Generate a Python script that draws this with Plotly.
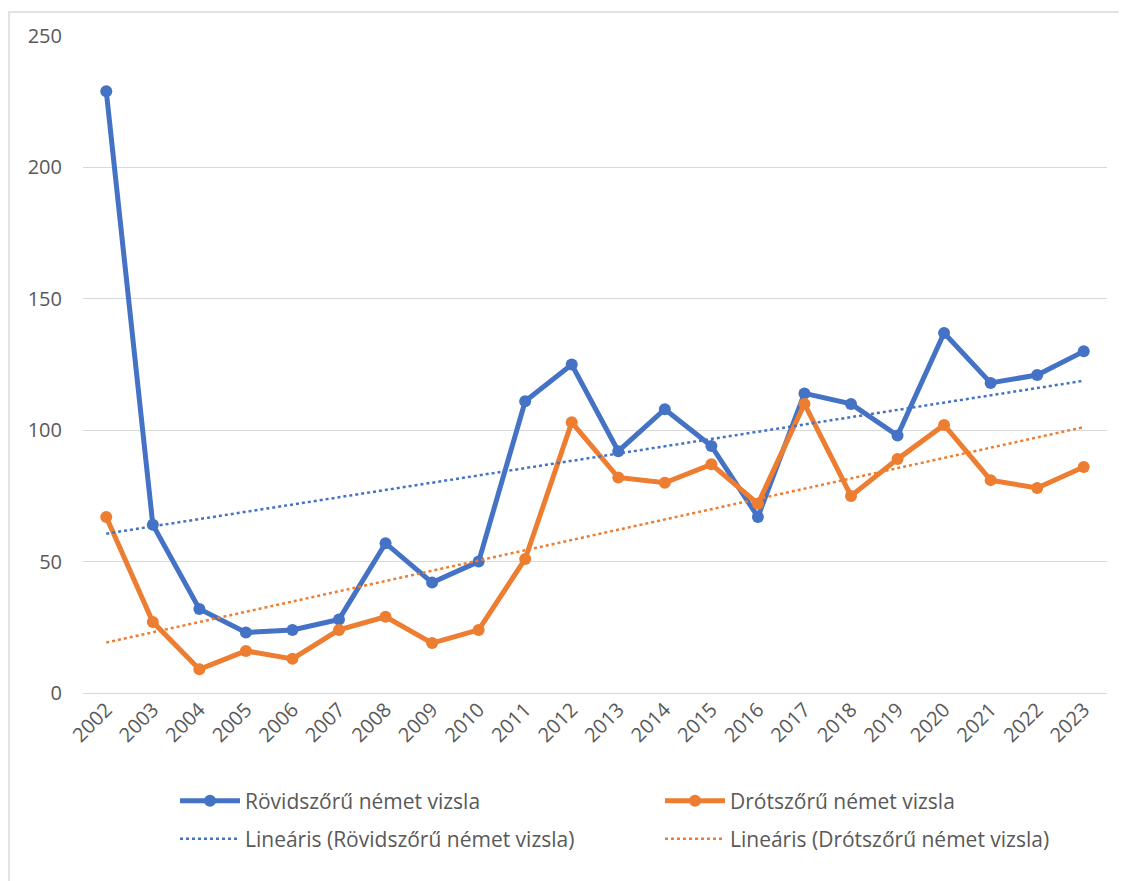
import numpy as np
import plotly.graph_objects as go

years = [str(y) for y in range(2002, 2024)]
rovid = [229, 64, 32, 23, 24, 28, 57, 42, 50, 111, 125, 92, 108, 94, 67, 114, 110, 98, 137, 118, 121, 130]
drot = [67, 27, 9, 16, 13, 24, 29, 19, 24, 51, 103, 82, 80, 87, 72, 110, 75, 89, 102, 81, 78, 86]

name_r = "Rövidszőrű német vizsla"
name_d = "Drótszőrű német vizsla"
BLUE = "#4472C4"
ORANGE = "#ED7D31"
TXT = "#595959"
FONT = "Open Sans"

idx = np.arange(len(years))
def trend(vals):
    a, b = np.polyfit(idx, np.array(vals, dtype=float), 1)
    return (a * idx + b).tolist()

fig = go.Figure()
fig.add_trace(go.Scatter(x=years, y=rovid, name=name_r, mode="lines+markers",
                         line=dict(color=BLUE, width=5), marker=dict(size=12, color=BLUE),
                         legend="legend"))
fig.add_trace(go.Scatter(x=years, y=drot, name=name_d, mode="lines+markers",
                         line=dict(color=ORANGE, width=5), marker=dict(size=12, color=ORANGE),
                         legend="legend2"))
fig.add_trace(go.Scatter(x=years, y=trend(rovid), name="Lineáris (" + name_r + ")", mode="lines",
                         line=dict(color=BLUE, width=2.5, dash="dot"), legend="legend3"))
fig.add_trace(go.Scatter(x=years, y=trend(drot), name="Lineáris (" + name_d + ")", mode="lines",
                         line=dict(color=ORANGE, width=2.5, dash="dot"), legend="legend4"))

# page coords: plot area spans x 83..1107, y 36..693 (page has 8px body margin)
def leg(px, py):
    return dict(orientation="h", xanchor="left", yanchor="middle",
                x=(px - 83) / 1024, y=(693 - py) / 657,
                font=dict(family=FONT, size=21, color=TXT),
                itemwidth=60, bgcolor="rgba(0,0,0,0)")

fig.update_layout(
    width=1119, height=873,
    margin=dict(l=75, r=20, t=28, b=188, autoexpand=False),
    paper_bgcolor="white", plot_bgcolor="white",
    font=dict(family=FONT, color=TXT),
    showlegend=True,
    legend=leg(175, 801),
    legend2=leg(660, 801),
    legend3=leg(175, 839),
    legend4=leg(660, 839),
    xaxis=dict(type="category", tickangle=-45, showgrid=False, showline=False,
               ticks="", tickfont=dict(family=FONT, size=20, color=TXT),
               range=[-0.5, len(years) - 0.5]),
    yaxis=dict(range=[0, 250], dtick=50, showgrid=True, gridcolor="#D9D9D9", gridwidth=1.3,
               zeroline=True, zerolinecolor="#D9D9D9", zerolinewidth=1.3,
               showline=False, ticks="", ticklabelstandoff=20,
               tickfont=dict(family=FONT, size=20, color=TXT)),
    shapes=[dict(type="rect", xref="paper", yref="paper",
                 x0=(9 - 83) / 1024, x1=1.2, y0=-0.5, y1=(693 - 12) / 657,
                 line=dict(color="#D9D9D9", width=1.5), layer="below")],
)

fig.write_html("out.html")
